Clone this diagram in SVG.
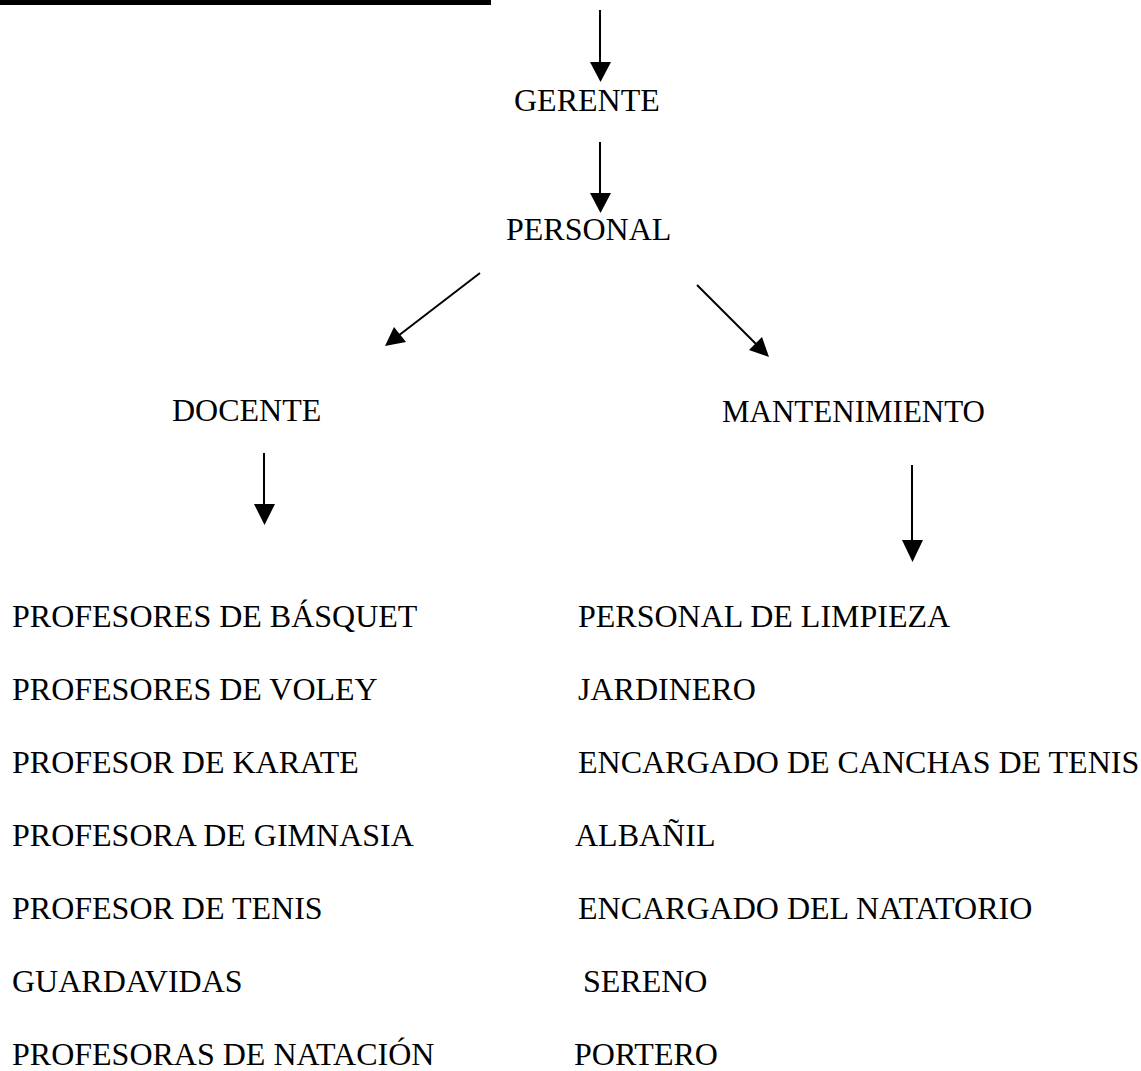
<svg xmlns="http://www.w3.org/2000/svg" width="1141" height="1071" viewBox="0 0 1141 1071">
<style>
text{font-family:"Liberation Serif","Times New Roman",serif;font-size:32px;fill:#000}
.ln{stroke:#000;stroke-width:2;fill:none}
</style>
<rect x="0" y="0" width="491" height="5" fill="#000"/>
<g id="connectors">
<line class="ln" x1="600" y1="10" x2="600" y2="64"/><path d="M590,62 L611,62 L600.5,82 Z"/>
<line class="ln" x1="600" y1="142" x2="600" y2="195"/><path d="M590,193 L611,193 L600.5,213 Z"/>
<line class="ln" x1="480" y1="273" x2="398" y2="336"/><path d="M385,346 L394,327 L406,342 Z"/>
<line class="ln" x1="697" y1="285" x2="756" y2="344"/><path d="M769,357 L749,350 L762,337 Z"/>
<line class="ln" x1="264" y1="453" x2="264" y2="506"/><path d="M254,504 L275,504 L264.5,525 Z"/>
<line class="ln" x1="912" y1="465" x2="912" y2="542"/><path d="M902,540 L923,540 L912.5,562 Z"/>
</g>
<g id="gerente"><text x="514" y="111">GERENTE</text></g>
<g id="personal"><text x="506" y="240">PERSONAL</text></g>
<g id="docente"><text x="172" y="421">DOCENTE</text></g>
<g id="mantenimiento"><text x="722" y="422" textLength="263" lengthAdjust="spacingAndGlyphs">MANTENIMIENTO</text></g>
<g id="docente-list">
<text x="12" y="627">PROFESORES DE BÁSQUET</text>
<text x="12" y="700">PROFESORES DE VOLEY</text>
<text x="12" y="773">PROFESOR DE KARATE</text>
<text x="12" y="846">PROFESORA DE GIMNASIA</text>
<text x="12" y="919">PROFESOR DE TENIS</text>
<text x="12" y="992">GUARDAVIDAS</text>
<text x="12" y="1065">PROFESORAS DE NATACIÓN</text>
</g>
<g id="mantenimiento-list">
<text x="578" y="627">PERSONAL DE LIMPIEZA</text>
<text x="578" y="700">JARDINERO</text>
<text x="578" y="773">ENCARGADO DE CANCHAS DE TENIS</text>
<text x="575" y="846">ALBAÑIL</text>
<text x="578" y="919">ENCARGADO DEL NATATORIO</text>
<text x="583" y="992">SERENO</text>
<text x="574" y="1065">PORTERO</text>
</g>
</svg>
